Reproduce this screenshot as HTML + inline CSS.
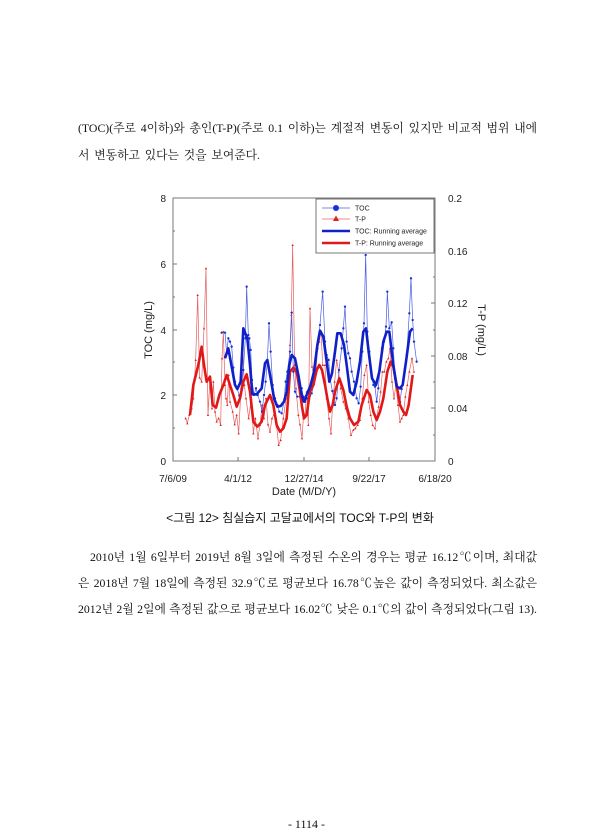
<!DOCTYPE html>
<html><head><meta charset="utf-8"><style>
body{margin:0;width:613px;height:840px;background:#fff;position:relative;overflow:hidden;font-family:"Liberation Serif","Noto Serif CJK SC",serif;color:#111}
.l{position:absolute;left:78px;width:459px;font-size:11.8px;line-height:14px;white-space:nowrap;text-align:justify;text-align-last:justify}
.c{position:absolute;font-family:"Liberation Sans","Noto Sans CJK KR",sans-serif;font-size:12px}
svg text{font-family:"Liberation Sans",sans-serif}
</style></head><body>
<div class="l" style="top:121px">(TOC)(주로 4이하)와 총인(T-P)(주로 0.1 이하)는 계절적 변동이 있지만 비교적 범위 내에</div>
<div class="l" style="top:148px;width:182px">서 변동하고 있다는 것을 보여준다.</div>
<div class="c" style="top:509px;left:0;width:600px;text-align:center">&lt;그림 12&gt; 침실습지 고달교에서의 TOC와 T-P의 변화</div>
<div class="l" style="top:550px;left:90px;width:447px">2010년 1월 6일부터 2019년 8월 3일에 측정된 수온의 경우는 평균 16.12℃이며, 최대값</div>
<div class="l" style="top:576px">은 2018년 7월 18일에 측정된 32.9℃로 평균보다 16.78℃높은 값이 측정되었다. 최소값은</div>
<div class="l" style="top:602px">2012년 2월 2일에 측정된 값으로 평균보다 16.02℃ 낮은 0.1℃의 값이 측정되었다(그림 13).</div>
<div class="c" style="top:817px;left:0;width:613px;text-align:center;font-family:'Liberation Serif',serif">- 1114 -</div>
<svg width="613" height="840" style="position:absolute;left:0;top:0">
<defs>
<marker id="d" markerUnits="userSpaceOnUse" markerWidth="10" markerHeight="10" refX="5" refY="5"><circle cx="5" cy="5" r="3.5" fill="#1a2fd6"/></marker>
<marker id="t" markerUnits="userSpaceOnUse" markerWidth="10" markerHeight="10" refX="5" refY="5"><path d="M5 1.5L8.5 8H1.5Z" fill="#e02020"/></marker>
</defs>
<rect x="173" y="198" width="262" height="263" fill="none" stroke="#777" stroke-width="1"/>
<g stroke="#777" stroke-width="1">
<line x1="173" y1="264" x2="177" y2="264"/><line x1="173" y1="330" x2="177" y2="330"/><line x1="173" y1="395" x2="177" y2="395"/>
<line x1="173" y1="231" x2="175" y2="231"/><line x1="173" y1="297" x2="175" y2="297"/><line x1="173" y1="362" x2="175" y2="362"/><line x1="173" y1="428" x2="175" y2="428"/>
<line x1="435" y1="251" x2="431" y2="251"/><line x1="435" y1="303" x2="431" y2="303"/><line x1="435" y1="356" x2="431" y2="356"/><line x1="435" y1="408" x2="431" y2="408"/>
<line x1="435" y1="224" x2="433" y2="224"/><line x1="435" y1="277" x2="433" y2="277"/><line x1="435" y1="330" x2="433" y2="330"/><line x1="435" y1="382" x2="433" y2="382"/><line x1="435" y1="435" x2="433" y2="435"/>
<line x1="238" y1="461" x2="238" y2="457"/><line x1="304" y1="461" x2="304" y2="457"/><line x1="369" y1="461" x2="369" y2="457"/>
</g>
<g font-size="10" fill="#222">
<text x="166" y="202" text-anchor="end">8</text><text x="166" y="268" text-anchor="end">6</text><text x="166" y="334" text-anchor="end">4</text><text x="166" y="399" text-anchor="end">2</text><text x="166" y="465" text-anchor="end">0</text>
<text x="448" y="202">0.2</text><text x="448" y="255">0.16</text><text x="448" y="307">0.12</text><text x="448" y="360">0.08</text><text x="448" y="412">0.04</text><text x="448" y="465">0</text>
<text x="173" y="482" text-anchor="middle">7/6/09</text><text x="238" y="482" text-anchor="middle">4/1/12</text><text x="304" y="482" text-anchor="middle">12/27/14</text><text x="369" y="482" text-anchor="middle">9/22/17</text><text x="435" y="482" text-anchor="middle">6/18/20</text>
<text x="304" y="495" text-anchor="middle" font-size="11">Date (M/D/Y)</text>
<text transform="translate(152,330) rotate(-90)" text-anchor="middle" font-size="11">TOC (mg/L)</text>
<text transform="translate(478,330) rotate(90)" text-anchor="middle" font-size="11">T-P (mg/L)</text>
</g>
<g transform="translate(130,185) scale(0.33333)" fill="none">
<polyline vector-effect="non-scaling-stroke" stroke="#e56060" stroke-width="0.7" marker-start="url(#t)" marker-mid="url(#t)" marker-end="url(#t)" points="167,700 172,715 178,690 185,670 190,640 197,525 203,330 209,578 215,590 222,430 228,250 234,690 240,580 246,670 250,590 255,680 260,710 266,700 272,720 276,520 280,440 285,600 288,640 292,660 296,570 300,650 308,680 314,718 320,690 326,745 332,630 338,490 343,600 348,640 356,700 364,640 370,745 376,700 384,760 390,720 396,660 402,700 408,640 414,718 420,740 426,700 432,688 440,725 446,780 452,765 460,700 468,640 474,600 480,480 484,390 488,180 494,540 498,610 505,690 510,718 516,760 520,700 525,690 530,620 535,720 540,370 546,545 552,580 558,555 563,490 568,470 573,438 578,540 585,540 590,640 597,700 603,745 608,655 614,590 620,525 626,560 632,610 640,650 647,670 655,700 663,750 670,735 676,730 683,720 690,705 697,640 703,570 710,540 716,650 722,690 728,720 735,730 740,695 746,665 752,620 757,560 763,560 769,530 775,520 780,490 786,590 792,640 798,600 804,660 810,710 815,700 820,690 826,635 832,600 838,560 846,520 852,560"/>
<polyline vector-effect="non-scaling-stroke" stroke="#4a5ee0" stroke-width="0.7" marker-start="url(#d)" marker-mid="url(#d)" marker-end="url(#d)" points="275,443 285,443 290,505 295,460 300,470 305,485 310,548 315,590 322,612 328,632 334,612 340,555 346,460 350,305 355,450 358,460 362,495 366,585 372,630 378,610 383,630 390,650 396,680 402,630 407,590 412,528 417,415 422,500 428,600 435,640 442,660 448,680 455,685 462,650 467,590 472,560 480,500 485,383 490,560 495,620 502,635 510,635 515,610 520,635 525,650 532,640 540,632 545,625 552,597 557,555 562,490 570,420 578,320 585,470 590,510 596,525 600,580 607,618 615,660 620,640 627,555 635,490 640,430 645,365 650,470 655,505 660,520 665,560 672,590 680,640 686,655 692,605 697,500 702,415 707,210 712,440 718,500 724,565 730,600 735,605 740,650 745,610 750,555 756,490 762,470 768,425 772,320 778,430 785,412 790,490 795,580 800,600 805,630 810,650 815,612 820,590 825,550 830,510 838,385 843,280 848,405 852,470 860,530"/>
<polyline vector-effect="non-scaling-stroke" stroke="#e01818" stroke-width="2.6" stroke-linejoin="round" points="180,690 190,600 200,560 205,540 215,485 222,540 230,590 240,575 248,660 258,668 268,630 280,600 290,570 300,600 310,630 320,665 330,640 340,590 350,568 360,620 370,710 382,725 395,710 405,660 420,630 430,660 440,720 450,740 460,730 470,700 480,560 490,548 500,560 510,620 516,665 522,700 530,690 540,620 550,600 560,555 568,540 576,555 585,600 592,640 600,680 608,660 615,620 628,580 640,615 650,665 660,700 672,720 685,710 695,660 710,615 720,630 730,680 740,705 750,680 760,640 772,560 782,530 790,545 800,600 810,660 820,680 828,690 836,660 848,570"/>
<polyline vector-effect="non-scaling-stroke" stroke="#1020c8" stroke-width="2.6" stroke-linejoin="round" points="285,520 295,490 305,545 315,600 322,612 332,590 340,430 352,460 360,540 367,628 380,628 395,610 405,535 412,525 422,580 432,640 442,665 452,663 462,650 470,620 478,540 485,510 495,520 505,570 515,630 522,650 532,625 542,600 552,560 562,480 570,437 580,455 590,530 598,590 606,565 615,500 622,445 632,445 642,480 650,540 660,620 670,630 680,590 690,530 700,440 708,430 716,500 726,580 738,600 748,560 760,470 770,440 778,440 790,540 800,605 810,610 818,600 828,530 840,440 848,430"/>
</g>
<rect x="316" y="199" width="118" height="54" fill="#fff" stroke="#555" stroke-width="0.8"/>
<g font-size="7" fill="#222">
<line x1="322" y1="208" x2="350" y2="208" stroke="#4a5ee0" stroke-width="0.7"/><circle cx="336" cy="208" r="3" fill="#1a2fd6"/><text x="355" y="210.5">TOC</text>
<line x1="322" y1="219" x2="350" y2="219" stroke="#e56060" stroke-width="0.7"/><path d="M336 215.5L339 221H333Z" fill="#e02020"/><text x="355" y="221.5">T-P</text>
<line x1="322" y1="231" x2="350" y2="231" stroke="#1020c8" stroke-width="2.4"/><text x="355" y="233.5">TOC: Running average</text>
<line x1="322" y1="243" x2="350" y2="243" stroke="#e01818" stroke-width="2.4"/><text x="355" y="245.5">T-P: Running average</text>
</g>
</svg>
</body></html>
